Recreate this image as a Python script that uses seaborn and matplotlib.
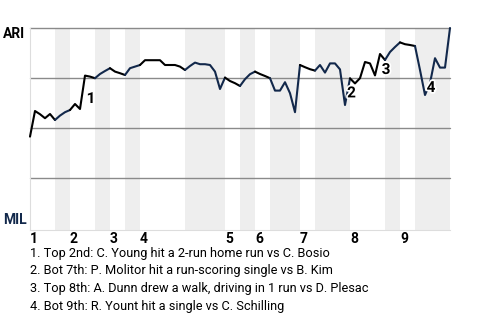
import numpy as np
import pandas as pd
import matplotlib
matplotlib.use("Agg")
import matplotlib.pyplot as plt
import matplotlib.patheffects as pe
import seaborn as sns

# ---- data ----
win_prob = [
    0.457, 0.585, 0.569, 0.549, 0.570, 0.540, 0.562, 0.579, 0.590, 0.620,
    0.595, 0.762, 0.757, 0.749, 0.770, 0.785, 0.799, 0.782, 0.774, 0.765,
    0.799, 0.807, 0.815, 0.839, 0.839, 0.839, 0.839, 0.815, 0.815, 0.815,
    0.807, 0.790, 0.810, 0.827, 0.819, 0.819, 0.815, 0.782, 0.695, 0.752,
    0.735, 0.724, 0.710, 0.744, 0.769, 0.782, 0.770, 0.760, 0.749, 0.687,
    0.687, 0.729, 0.674, 0.579, 0.815, 0.804, 0.794, 0.787, 0.815, 0.777,
    0.823, 0.823, 0.793, 0.615, 0.748, 0.723, 0.749, 0.830, 0.823, 0.763,
    0.870, 0.840, 0.880, 0.905, 0.928, 0.919, 0.915, 0.910, 0.790, 0.665,
    0.724, 0.849, 0.802, 0.802, 1.000,
]
half_inning_plays = [5, 3, 5, 3, 3, 3, 9, 8, 3, 3, 3, 6, 3, 7, 7, 3, 3, 7]
inning_labels = ["1", "2", "3", "4", "5", "6", "7", "8", "9"]
event_plays = [11, 63, 70, 79]
event_marks = ["1", "2", "3", "4"]
event_texts = [
    "1. Top 2nd: C. Young hit a 2-run home run vs C. Bosio",
    "2. Bot 7th: P. Molitor hit a run-scoring single vs B. Kim",
    "3. Top 8th: A. Dunn drew a walk, driving in 1 run vs D. Plesac",
    "4. Bot 9th: R. Yount hit a single vs C. Schilling",
]
team_top = "ARI"
team_bottom = "MIL"

# ---- style ----
NAVY = "#12284b"
sns.set_theme(style="white")
plt.rcParams["font.family"] = ["Roboto", "DejaVu Sans"]

W, H = 480, 320
fig = plt.figure(figsize=(W / 100, H / 100), dpi=100)
ax = fig.add_axes([30 / W, 1 - 230 / H, 420 / W, 202 / H])

df = pd.DataFrame({"play": np.arange(len(win_prob)), "wp": win_prob})
bounds = np.concatenate([[0], np.cumsum(half_inning_plays)])

for h in range(len(half_inning_plays)):
    a, b = int(bounds[h]), int(bounds[h + 1])
    bottom_half = h % 2 == 1
    if bottom_half:
        ax.axvspan(a, b, color="#eeeeee", lw=0, zorder=0)
    seg = df.iloc[a:b + 1]
    sns.lineplot(data=seg, x="play", y="wp", ax=ax,
                 color=NAVY if bottom_half else "black",
                 lw=1.5, zorder=3, clip_on=False)

for yv in [0.25, 0.5, 0.75, 1.0]:
    ax.axhline(yv, color="#8a8a8a", lw=1.0, zorder=1, clip_on=False)

ax.set_xlim(0, bounds[-1])
ax.set_ylim(-0.01, 1.0)
ax.set_xticks([])
ax.set_yticks([])
ax.set_xlabel("")
ax.set_ylabel("")
for s in ["top", "right"]:
    ax.spines[s].set_visible(False)
for s in ["left", "bottom"]:
    ax.spines[s].set_color("#dddddd")
    ax.spines[s].set_linewidth(0.8)

# inning labels
inning_starts = bounds[0:-1:2]
for x0, lab in zip(inning_starts, inning_labels):
    ax.annotate(lab, xy=(x0, 0), xycoords=("data", "axes fraction"),
                xytext=(0, -1.5), textcoords="offset points",
                ha="left", va="top", fontsize=10, fontweight="bold",
                color="black")

# event markers
offsets = [(1.2, -0.117), (1.3, 0.058), (1.2, -0.08), (1.2, 0.035)]
for p, m, (dx, dy) in zip(event_plays, event_marks, offsets):
    ax.text(p + dx, win_prob[p] + dy, m, ha="center", va="center",
            fontsize=11, fontweight="bold", color="black", zorder=5,
            path_effects=[pe.withStroke(linewidth=2.5, foreground="white")])

# team labels
fig.text(3 / W, 1 - 34 / H, team_top, ha="left", va="center",
         fontsize=10, fontweight="bold", color="black")
fig.text(3 / W, 1 - 220 / H, team_bottom, ha="left", va="center",
         fontsize=10, fontweight="bold", color=NAVY)

# event descriptions
for k, t in enumerate(event_texts):
    fig.text(30 / W, 1 - (253 + 17.8 * k) / H, t, ha="left", va="center",
             fontsize=9.2, color="black")

fig.savefig("out.png", dpi=100)
